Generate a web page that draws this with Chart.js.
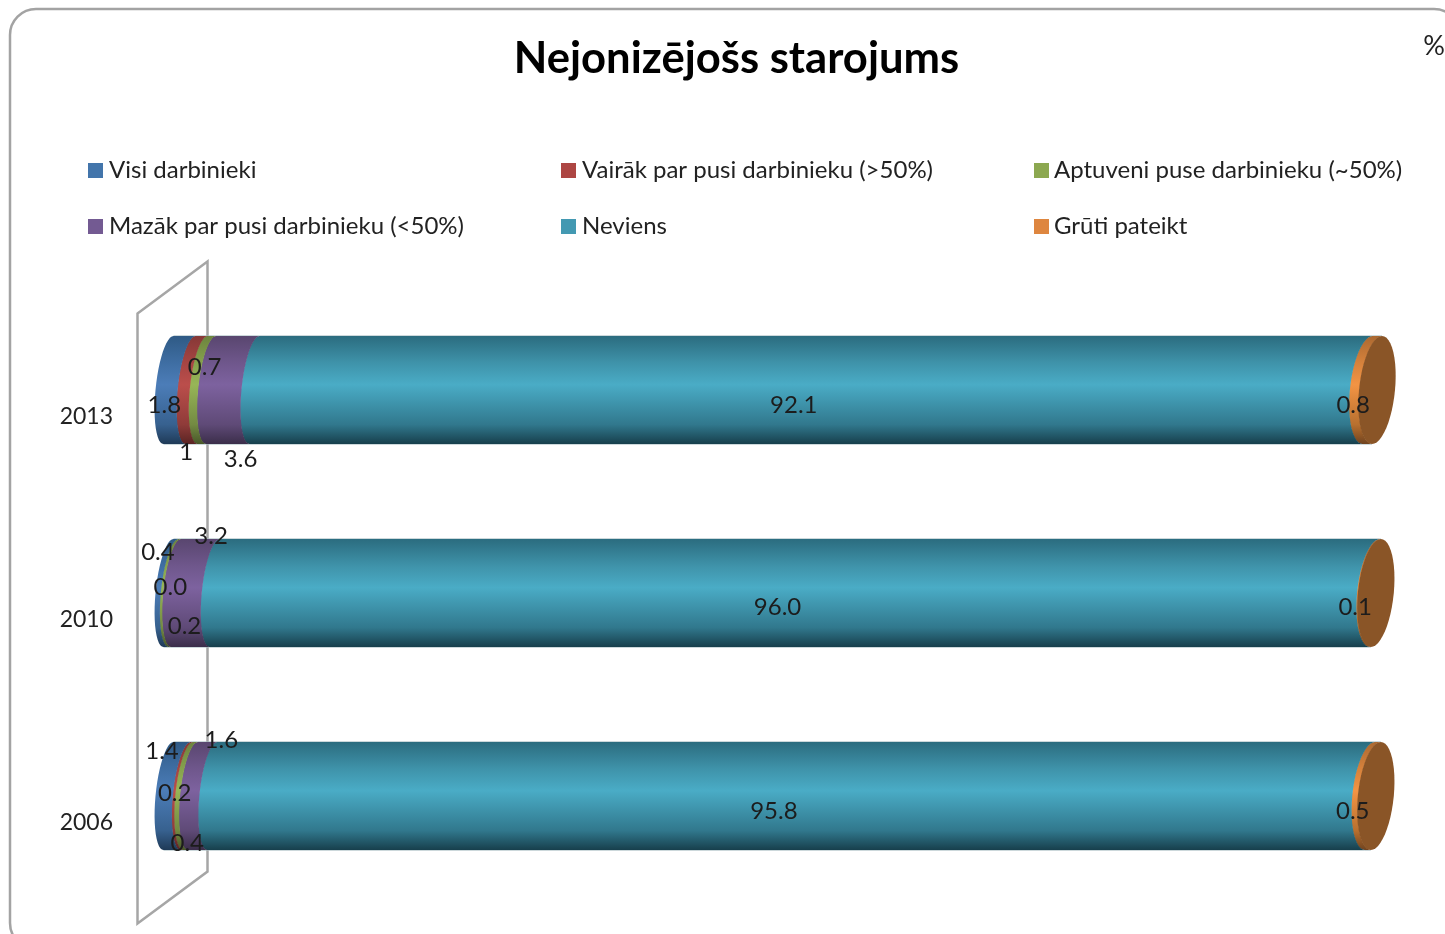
<!DOCTYPE html>
<html>
<head>
<meta charset="utf-8">
<title>Nejonizējošs starojums</title>
<script src="https://cdn.jsdelivr.net/npm/chart.js@4"></script>
<style>
html, body { margin: 0; padding: 0; background: #fff; overflow: hidden; }
#wrap { width: 1445px; height: 934px; }
</style>
</head>
<body>
<div id="wrap"><canvas id="myChart" width="1445" height="934"></canvas></div>
<script>
var years = ['2013', '2010', '2006'];
var seriesNames = ['Visi darbinieki', 'Vairāk par pusi darbinieku (>50%)', 'Aptuveni puse darbinieku (~50%)',
	'Mazāk par pusi darbinieku (<50%)', 'Neviens', 'Grūti pateikt'];

var visi = [1.8, 0.4, 1.4];
var vairak = [1, 0.0, 0.2];
var aptuveni = [0.7, 0.2, 0.4];
var mazak = [3.6, 3.2, 1.6];
var neviens = [92.1, 96.0, 95.8];
var gruti = [0.8, 0.1, 0.5];
var allSeries = [visi, vairak, aptuveni, mazak, neviens, gruti];

var labelTexts = [
	['1.8', '0.4', '1.4'],
	['1', '0.0', '0.2'],
	['0.7', '0.2', '0.4'],
	['3.6', '3.2', '1.6'],
	['92.1', '96.0', '95.8'],
	['0.8', '0.1', '0.5']
];

// legend colour, gradient [edge top, upper, middle, lower, edge bottom]
var shades = [
	['#4375ab', '#2f5a85', '#3f6ea3', '#4c7db8', '#37618f', '#1f3a57'],
	['#ad4643', '#863836', '#a64543', '#bb4e4b', '#8f3b39', '#5a2423'],
	['#8ca850', '#6c833e', '#86a24d', '#97b657', '#738a42', '#48572a'],
	['#735a92', '#59466f', '#6f578c', '#7d629f', '#5f4a77', '#3b2e4a'],
	['#4399b2', '#2b6c7f', '#3f93aa', '#4aacc6', '#31788d', '#173f4c'],
	['#de863f', '#ac6931', '#d6823c', '#f39444', '#b8702f', '#70431f']
];
var faceColor = '#8a5527';

// hand moved labels, px from the middle of the segment [series][year]
var labelNudge = [
	[[-15, 15], [-13, -41], [-15, -45]],
	[[-10, 62], [-3, -6], [-12, -3]],
	[[-2, -23], [10, 33], [-3, 47]],
	[[8, 69], [16, -57], [19, -56]],
	[[-17, 15], [-17, 14], [-17, 15]],
	[[-19, 15], [-20, 14], [-20, 15]]
];

var legendCols = [88, 561, 1034];
var legendRows = [170, 226];
var mainFont = 'Lato';

function rxAt(x) {
	return 13 + 5 * (x - 168) / 1209;
}

// one side of the end ellipse, from the top of the bar to the bottom
function curveDown(ctx, x, top, h) {
	var rx = rxAt(x), tilt = 5;
	var cy = top + h / 2, ry = h / 2;
	for (var i = 0; i <= 24; i++) {
		var t = -Math.PI / 2 - Math.PI * i / 24;
		ctx.lineTo(x + rx * Math.cos(t) - tilt * Math.sin(t), cy + ry * Math.sin(t));
	}
}
function curveUp(ctx, x, top, h) {
	var rx = rxAt(x), tilt = 5;
	var cy = top + h / 2, ry = h / 2;
	for (var i = 24; i >= 0; i--) {
		var t = -Math.PI / 2 - Math.PI * i / 24;
		ctx.lineTo(x + rx * Math.cos(t) - tilt * Math.sin(t), cy + ry * Math.sin(t));
	}
}

function barGradient(ctx, top, h, s) {
	var g = ctx.createLinearGradient(0, top, 0, top + h);
	g.addColorStop(0, s[1]);
	g.addColorStop(0.25, s[2]);
	g.addColorStop(0.45, s[3]);
	g.addColorStop(0.82, s[4]);
	g.addColorStop(1, s[5]);
	return g;
}

var cylinderPlugin = {
	id: 'cylinder',
	afterLayout: function (chart) {
		// otherwise the tick labels get clipped at the narrow axis box
		chart.scales.y.left = 40;
	},
	beforeDraw: function (chart) {
		var ctx = chart.ctx;
		ctx.save();
		ctx.fillStyle = '#fff';
		ctx.fillRect(0, 0, chart.width, chart.height);
		ctx.beginPath();
		ctx.roundRect(10, 9, 1450, 940, 26);
		ctx.strokeStyle = '#a3a3a3';
		ctx.lineWidth = 2.5;
		ctx.stroke();
		// %
		ctx.fillStyle = '#222';
		ctx.font = '27px ' + mainFont;
		ctx.textAlign = 'center';
		ctx.textBaseline = 'middle';
		ctx.fillText('%', 1434, 46);
		// legend
		ctx.textAlign = 'left';
		ctx.font = '24px ' + mainFont;
		seriesNames.forEach(function (name, i) {
			var x = legendCols[i % 3], y = legendRows[Math.floor(i / 3)];
			ctx.fillStyle = shades[i][0];
			ctx.fillRect(x, y - 7, 15, 15);
			ctx.fillStyle = '#222';
			ctx.fillText(name, x + (i % 3 == 2 ? 20 : 21), y);
		});
		ctx.restore();
	},
	beforeDatasetsDraw: function (chart) {
		// the back wall
		var ctx = chart.ctx, a = chart.chartArea;
		var xl = a.left - 31, xr = a.left + 39;
		ctx.save();
		ctx.beginPath();
		ctx.moveTo(xl, a.top + 25);
		ctx.lineTo(xr, a.top - 27);
		ctx.lineTo(xr, a.bottom - 26);
		ctx.lineTo(xl, a.bottom + 26);
		ctx.closePath();
		ctx.strokeStyle = '#a6a6a6';
		ctx.lineWidth = 2.5;
		ctx.stroke();
		ctx.restore();
	},
	beforeDatasetDraw: function (chart, args) {
		var ctx = chart.ctx, i = args.index;
		args.meta.data.forEach(function (bar) {
			var p = bar.getProps(['x', 'y', 'base', 'height'], true);
			if (p.x - p.base < 0.01) return;
			var top = p.y - p.height / 2;
			ctx.beginPath();
			ctx.moveTo(p.base + 5, top);
			curveDown(ctx, p.x + 0.5, top, p.height);
			curveUp(ctx, p.base, top, p.height);
			ctx.closePath();
			ctx.fillStyle = barGradient(ctx, top, p.height, shades[i]);
			ctx.fill();
			// thin pale edges on top and bottom
			ctx.fillStyle = 'rgba(170,190,195,0.6)';
			ctx.fillRect(p.base + 5, top - 1, p.x - p.base, 1);
			ctx.fillRect(p.base - 5, top + p.height, p.x - p.base, 1);
		});
		return false;
	},
	afterDatasetsDraw: function (chart) {
		var ctx = chart.ctx;
		// end face of each cylinder
		var n = chart.data.datasets.length;
		chart.getDatasetMeta(n - 1).data.forEach(function (bar) {
			var p = bar.getProps(['x', 'y', 'height'], true);
			var top = p.y - p.height / 2;
			ctx.beginPath();
			ctx.moveTo(p.x + 5, top);
			curveDown(ctx, p.x, top, p.height);
			for (var k = 24; k >= 0; k--) {
				var t = -Math.PI / 2 + Math.PI * k / 24;
				var rx = rxAt(p.x);
				ctx.lineTo(p.x + rx * Math.cos(t) - 5 * Math.sin(t), p.y + p.height / 2 * Math.sin(t));
			}
			ctx.closePath();
			ctx.fillStyle = faceColor;
			ctx.fill();
		});
		// data labels
		ctx.save();
		ctx.font = '24px ' + mainFont;
		ctx.fillStyle = '#1c1c1c';
		ctx.textAlign = 'center';
		ctx.textBaseline = 'middle';
		chart.data.datasets.forEach(function (ds, i) {
			chart.getDatasetMeta(i).data.forEach(function (bar, j) {
				var p = bar.getProps(['x', 'y', 'base'], true);
				var n = labelNudge[i][j];
				ctx.fillText(labelTexts[i][j], (p.x + p.base) / 2 + n[0], p.y + n[1]);
			});
		});
		ctx.restore();
	}
};

var ctx = document.getElementById('myChart');
var myChart = new Chart(ctx, {
	type: 'bar',
	data: {
		labels: years,
		datasets: allSeries.map(function (vals, i) {
			return {
				label: seriesNames[i],
				data: vals,
				backgroundColor: shades[i][0],
				categoryPercentage: 1,
				barPercentage: 0.532
			};
		})
	},
	options: {
		indexAxis: 'y',
		responsive: false,
		animation: false,
		layout: { padding: { left: 96, right: 68, top: 0, bottom: 36.5 } },
		scales: {
			x: { stacked: true, min: 0, max: 100, display: false },
			y: {
				stacked: true,
				grid: { display: false, drawTicks: false },
				border: { display: false },
				afterFit: function (s) {
					s.width = 72.5;
					s.paddingTop = 0;
					s.paddingBottom = 0;
				},
				ticks: {
					padding: 55.5,
					labelOffset: 27,
					color: '#222',
					font: { family: mainFont, size: 23 }
				}
			}
		},
		plugins: {
			legend: { display: false },
			tooltip: { enabled: false },
			title: {
				display: true,
				text: 'Nejonizējošs starojums',
				color: '#000',
				font: { family: mainFont, size: 43.6, weight: 'bold' },
				padding: { top: 33, bottom: 203.2 }
			}
		}
	},
	plugins: [cylinderPlugin]
});
</script>
</body>
</html>
